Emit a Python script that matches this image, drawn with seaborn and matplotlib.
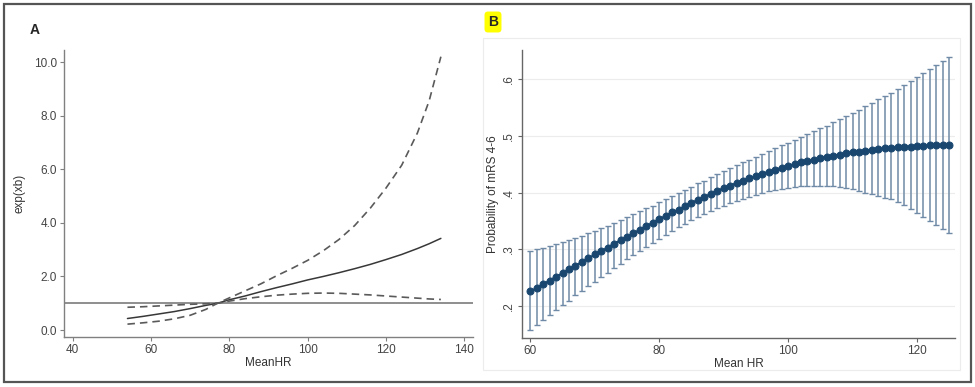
import numpy as np
import pandas as pd
import matplotlib
matplotlib.use("Agg")
import matplotlib.pyplot as plt
from matplotlib.patches import Rectangle
import seaborn as sns

sns.set_theme(style="white")
plt.rcParams['font.family'] = ['Liberation Sans', 'DejaVu Sans']

# ---- panel A: exp(xb) vs MeanHR ----
hr_a = [54, 58, 62, 66, 70, 74, 77, 80, 84, 88, 92, 96, 100, 104, 108, 112, 116, 120, 124, 128, 131, 134]
expxb = [0.43, 0.51, 0.60, 0.69, 0.80, 0.92, 1.00, 1.13, 1.27, 1.43, 1.58, 1.72, 1.87, 2.00, 2.14, 2.29,
         2.45, 2.63, 2.82, 3.04, 3.22, 3.42]
ci_steep = [0.22, 0.27, 0.33, 0.42, 0.55, 0.77, 1.00, 1.20, 1.46, 1.72, 2.02, 2.30, 2.60, 2.96, 3.38, 3.90,
            4.55, 5.30, 6.15, 7.35, 8.55, 10.20]
ci_flat = [0.85, 0.87, 0.90, 0.93, 0.96, 0.98, 1.00, 1.08, 1.17, 1.24, 1.30, 1.34, 1.37, 1.38, 1.37, 1.34,
           1.31, 1.27, 1.23, 1.19, 1.16, 1.14]
ref_line = 1.0

# ---- panel B: probability of mRS 4-6 vs Mean HR ----
hr_b = list(range(60, 126))
prob = [0.226, 0.232, 0.239, 0.245, 0.252, 0.258, 0.265, 0.271, 0.278, 0.284,
        0.291, 0.297, 0.303, 0.310, 0.316, 0.322, 0.328, 0.335, 0.341, 0.347,
        0.353, 0.359, 0.365, 0.370, 0.376, 0.382, 0.387, 0.392, 0.398, 0.403,
        0.408, 0.412, 0.417, 0.421, 0.425, 0.429, 0.433, 0.437, 0.440, 0.444,
        0.447, 0.450, 0.453, 0.455, 0.458, 0.460, 0.463, 0.465, 0.467, 0.469,
        0.471, 0.472, 0.474, 0.475, 0.477, 0.478, 0.479, 0.480, 0.481, 0.481,
        0.482, 0.482, 0.483, 0.483, 0.483, 0.483]
prob_hi = [0.297, 0.300, 0.303, 0.306, 0.309, 0.313, 0.317, 0.320, 0.324, 0.328,
           0.333, 0.337, 0.342, 0.347, 0.352, 0.357, 0.362, 0.367, 0.372, 0.377,
           0.383, 0.388, 0.394, 0.399, 0.405, 0.410, 0.416, 0.421, 0.427, 0.432,
           0.438, 0.443, 0.448, 0.453, 0.458, 0.463, 0.468, 0.473, 0.478, 0.483,
           0.488, 0.493, 0.498, 0.503, 0.508, 0.513, 0.518, 0.524, 0.529, 0.535,
           0.540, 0.546, 0.552, 0.558, 0.564, 0.570, 0.576, 0.583, 0.589, 0.596,
           0.603, 0.610, 0.617, 0.624, 0.631, 0.638]
prob_lo = [0.158, 0.167, 0.176, 0.185, 0.193, 0.202, 0.210, 0.219, 0.227, 0.235,
           0.243, 0.251, 0.259, 0.267, 0.275, 0.283, 0.290, 0.298, 0.305, 0.312,
           0.319, 0.326, 0.332, 0.339, 0.345, 0.351, 0.357, 0.362, 0.367, 0.372,
           0.377, 0.381, 0.385, 0.389, 0.393, 0.396, 0.399, 0.402, 0.404, 0.406,
           0.408, 0.410, 0.411, 0.412, 0.412, 0.412, 0.412, 0.411, 0.410, 0.408,
           0.406, 0.403, 0.400, 0.397, 0.394, 0.390, 0.388, 0.384, 0.378, 0.371,
           0.364, 0.357, 0.350, 0.343, 0.336, 0.329]

W, H = 975, 387
fig = plt.figure(figsize=(W / 100, H / 100), dpi=100)

def px_axes(x0, y0, x1, y1):
    # pixel box (top-left origin) -> figure axes
    return fig.add_axes([x0 / W, 1 - y1 / H, (x1 - x0) / W, (y1 - y0) / H])

# outer frame around both panels
fig.patches.append(Rectangle((4 / W, 5 / H), 967 / W, 378 / H, transform=fig.transFigure,
                             fill=False, edgecolor='#555555', lw=1.6))
# light plot-region frame of panel B
fig.patches.append(Rectangle((483 / W, 17 / H), 477 / W, 332 / H, transform=fig.transFigure,
                             fill=False, edgecolor='#ececec', lw=0.8))

spine_col = '#808080'
tick_col = '#444444'

# ---------- A ----------
axA = px_axes(64, 50, 473, 337)
df_a = pd.DataFrame({'MeanHR': hr_a, 'exp': expxb, 'steep': ci_steep, 'flat': ci_flat})
axA.axhline(ref_line, color='#707070', lw=1.1, zorder=1)
sns.lineplot(data=df_a, x='MeanHR', y='exp', ax=axA, color='#383838', lw=1.1)
sns.lineplot(data=df_a, x='MeanHR', y='steep', ax=axA, color='#5a5a5a', lw=1.2,
             linestyle=(0, (4.5, 3)))
sns.lineplot(data=df_a, x='MeanHR', y='flat', ax=axA, color='#5a5a5a', lw=1.2,
             linestyle=(0, (4.5, 3)))
axA.set_xlim(37.8, 142.2)
axA.set_ylim(-0.26, 10.45)
axA.set_xticks([40, 60, 80, 100, 120, 140])
axA.set_yticks([0, 2, 4, 6, 8, 10])
axA.set_yticklabels([f"{v:.1f}" for v in [0, 2, 4, 6, 8, 10]])
axA.set_xlabel('MeanHR', fontsize=8.5, color='#333333', labelpad=1)
axA.set_ylabel('exp(xb)', fontsize=8.5, color='#333333', labelpad=6)
for s in ['top', 'right']:
    axA.spines[s].set_visible(False)
for s in ['left', 'bottom']:
    axA.spines[s].set_color(spine_col)
    axA.spines[s].set_linewidth(1.0)
axA.tick_params(axis='both', direction='out', length=3, width=0.8, color=spine_col,
                labelsize=8.5, labelcolor=tick_col, pad=2, bottom=True, left=True)
fig.text(35 / W, 1 - 30 / H, 'A', fontsize=10, fontweight='bold', ha='center', va='center')

# ---------- B ----------
navy = '#1a476f'
axB = px_axes(522, 50, 955, 338)
lo_err = np.array(prob) - np.array(prob_lo)
hi_err = np.array(prob_hi) - np.array(prob)
axB.errorbar(hr_b, prob, yerr=[lo_err, hi_err], fmt='none', ecolor='#6f8aa6',
             elinewidth=1.1, capsize=2.3, capthick=1.0, zorder=2)
df_b = pd.DataFrame({'Mean HR': hr_b, 'prob': prob})
sns.lineplot(data=df_b, x='Mean HR', y='prob', ax=axB, color=navy, lw=1.5,
             marker='o', markersize=5, markeredgecolor=navy, zorder=3)
axB.set_xlim(58.7, 125.9)
axB.set_ylim(0.144, 0.651)
axB.set_xticks([60, 80, 100, 120])
yt = [0.2, 0.3, 0.4, 0.5, 0.6]
axB.set_yticks(yt)
axB.set_yticklabels(['.2', '.3', '.4', '.5', '.6'], rotation=90, va='center')
axB.grid(axis='y', color='#ececec', lw=0.8)
axB.set_axisbelow(True)
axB.set_xlabel('Mean HR', fontsize=8.5, color='#333333', labelpad=1)
axB.set_ylabel('Probability of mRS 4-6', fontsize=8.5, color='#333333', labelpad=3)
for s in ['top', 'right']:
    axB.spines[s].set_visible(False)
for s in ['left', 'bottom']:
    axB.spines[s].set_color('#666666')
    axB.spines[s].set_linewidth(1.0)
axB.tick_params(axis='both', direction='out', length=3, width=0.8, color='#666666',
                labelsize=8.5, labelcolor=tick_col, pad=2, bottom=True, left=True)
fig.text(493 / W, 1 - 22 / H, 'B', fontsize=10, fontweight='bold', ha='center', va='center',
         bbox=dict(boxstyle='round,pad=0.25', fc='#ffff00', ec='none'))

fig.savefig('out.png', dpi=100)
